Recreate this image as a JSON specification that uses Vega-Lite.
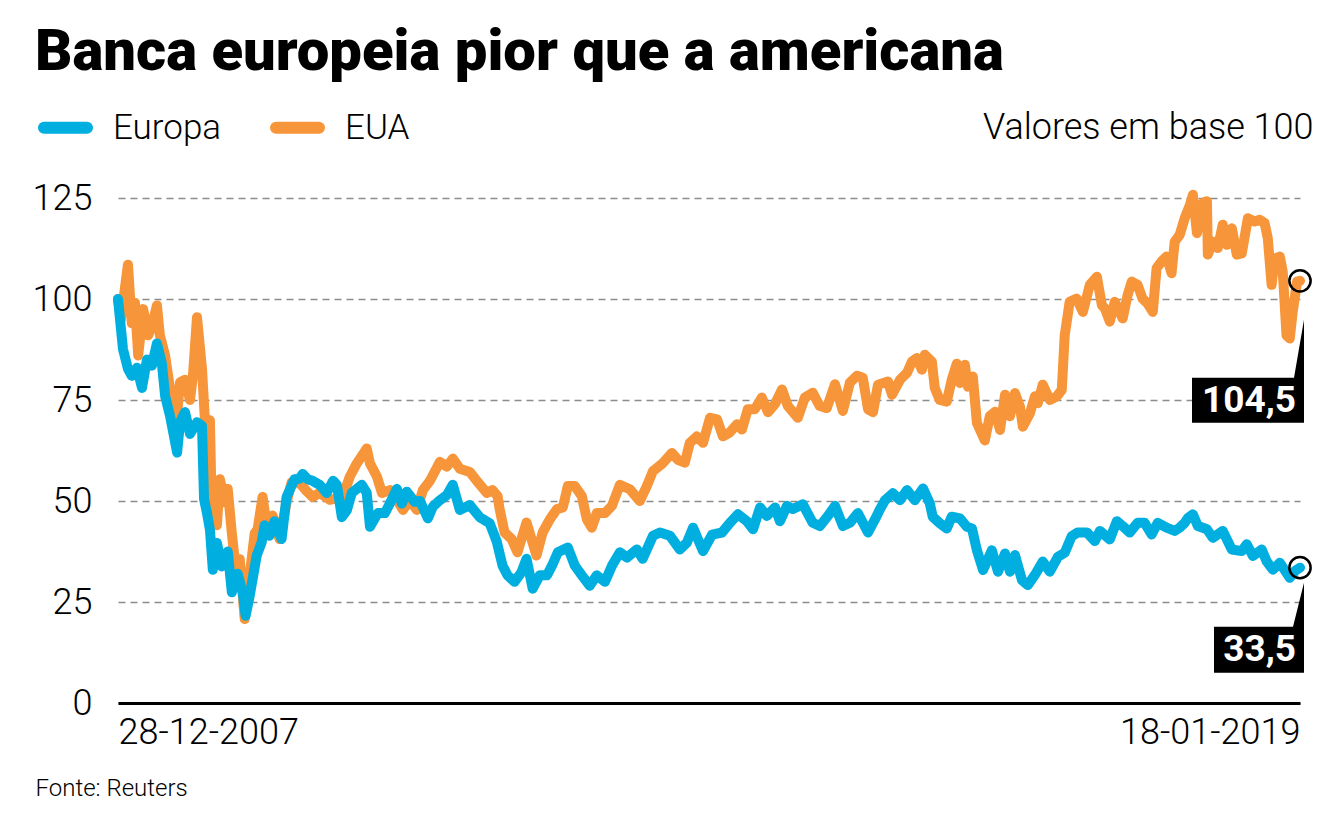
{
  "$schema": "https://vega.github.io/schema/vega-lite/v6.json",
  "width": 1182,
  "height": 505,
  "autosize": {"type": "none"},
  "padding": {"left": 118, "top": 198, "right": 33, "bottom": 128},
  "background": "white",
  "title": {"text": "Banca europeia pior que a americana", "anchor": "start", "frame": "group", "dx": -83, "dy": -14, "font": "Roboto", "fontWeight": 900, "fontSize": 58, "color": "#000000"},
  "config": {"view": {"stroke": null}, "font": "Roboto"},
  "datasets": {
    "series": [
      {"d":"2007-12-28","s":"EUA","v":100},{"d":"2008-01-07","s":"EUA","v":95},{"d":"2008-01-31","s":"EUA","v":108.5},{"d":"2008-02-13","s":"EUA","v":94},{"d":"2008-02-24","s":"EUA","v":99},{"d":"2008-03-06","s":"EUA","v":86},{"d":"2008-03-23","s":"EUA","v":97.5},{"d":"2008-04-09","s":"EUA","v":91},{"d":"2008-04-22","s":"EUA","v":93.4},{"d":"2008-05-09","s":"EUA","v":98.4},{"d":"2008-05-19","s":"EUA","v":91},{"d":"2008-06-06","s":"EUA","v":86},{"d":"2008-06-23","s":"EUA","v":77.7},{"d":"2008-07-10","s":"EUA","v":66},{"d":"2008-07-27","s":"EUA","v":79.4},{"d":"2008-08-13","s":"EUA","v":80},{"d":"2008-08-30","s":"EUA","v":75},{"d":"2008-09-09","s":"EUA","v":81},{"d":"2008-09-23","s":"EUA","v":95.5},{"d":"2008-10-10","s":"EUA","v":82.7},{"d":"2008-10-20","s":"EUA","v":70},{"d":"2008-11-06","s":"EUA","v":70},{"d":"2008-11-13","s":"EUA","v":46},{"d":"2008-11-30","s":"EUA","v":44},{"d":"2008-12-10","s":"EUA","v":55.4},{"d":"2008-12-28","s":"EUA","v":49.6},{"d":"2009-01-06","s":"EUA","v":53},{"d":"2009-01-20","s":"EUA","v":42},{"d":"2009-02-06","s":"EUA","v":30.7},{"d":"2009-02-16","s":"EUA","v":35.6},{"d":"2009-03-05","s":"EUA","v":20.8},{"d":"2009-03-22","s":"EUA","v":31.5},{"d":"2009-04-08","s":"EUA","v":42},{"d":"2009-04-18","s":"EUA","v":43},{"d":"2009-05-05","s":"EUA","v":51},{"d":"2009-05-19","s":"EUA","v":44},{"d":"2009-06-08","s":"EUA","v":46.4},{"d":"2009-07-02","s":"EUA","v":40.6},{"d":"2009-07-26","s":"EUA","v":49.6},{"d":"2009-08-12","s":"EUA","v":54.6},{"d":"2009-09-08","s":"EUA","v":54.5},{"d":"2009-10-02","s":"EUA","v":52.5},{"d":"2009-10-23","s":"EUA","v":51},{"d":"2009-11-16","s":"EUA","v":52},{"d":"2009-12-21","s":"EUA","v":50.3},{"d":"2010-02-03","s":"EUA","v":51},{"d":"2010-02-27","s":"EUA","v":56},{"d":"2010-03-23","s":"EUA","v":59.3},{"d":"2010-04-26","s":"EUA","v":63},{"d":"2010-05-07","s":"EUA","v":59.3},{"d":"2010-05-31","s":"EUA","v":56},{"d":"2010-06-17","s":"EUA","v":52},{"d":"2010-07-14","s":"EUA","v":52.7},{"d":"2010-08-07","s":"EUA","v":50.3},{"d":"2010-08-28","s":"EUA","v":47.8},{"d":"2010-09-20","s":"EUA","v":50.3},{"d":"2010-10-14","s":"EUA","v":47.8},{"d":"2010-11-04","s":"EUA","v":52.7},{"d":"2010-11-28","s":"EUA","v":55},{"d":"2011-01-01","s":"EUA","v":59.7},{"d":"2011-01-25","s":"EUA","v":58.5},{"d":"2011-02-14","s":"EUA","v":60.5},{"d":"2011-03-10","s":"EUA","v":58},{"d":"2011-04-13","s":"EUA","v":57.2},{"d":"2011-05-07","s":"EUA","v":55},{"d":"2011-06-10","s":"EUA","v":52},{"d":"2011-06-30","s":"EUA","v":52.7},{"d":"2011-07-17","s":"EUA","v":51.2},{"d":"2011-07-24","s":"EUA","v":48},{"d":"2011-08-10","s":"EUA","v":42.2},{"d":"2011-09-03","s":"EUA","v":40.6},{"d":"2011-09-23","s":"EUA","v":37.3},{"d":"2011-10-24","s":"EUA","v":44.7},{"d":"2011-11-10","s":"EUA","v":40.6},{"d":"2011-11-27","s":"EUA","v":36.5},{"d":"2011-12-18","s":"EUA","v":42.2},{"d":"2012-01-12","s":"EUA","v":45.5},{"d":"2012-02-05","s":"EUA","v":48},{"d":"2012-02-25","s":"EUA","v":48.4},{"d":"2012-03-13","s":"EUA","v":53.7},{"d":"2012-04-06","s":"EUA","v":53.7},{"d":"2012-04-30","s":"EUA","v":51.2},{"d":"2012-05-17","s":"EUA","v":45.5},{"d":"2012-06-03","s":"EUA","v":43.4},{"d":"2012-06-20","s":"EUA","v":47},{"d":"2012-07-18","s":"EUA","v":47},{"d":"2012-08-11","s":"EUA","v":48.8},{"d":"2012-09-07","s":"EUA","v":54},{"d":"2012-10-11","s":"EUA","v":52.9},{"d":"2012-11-14","s":"EUA","v":50},{"d":"2012-12-08","s":"EUA","v":53.7},{"d":"2012-12-29","s":"EUA","v":57.4},{"d":"2013-02-01","s":"EUA","v":59.4},{"d":"2013-03-04","s":"EUA","v":61.9},{"d":"2013-03-24","s":"EUA","v":60.2},{"d":"2013-04-17","s":"EUA","v":59.5},{"d":"2013-05-04","s":"EUA","v":64.4},{"d":"2013-05-28","s":"EUA","v":66},{"d":"2013-06-18","s":"EUA","v":64.4},{"d":"2013-07-12","s":"EUA","v":70.6},{"d":"2013-08-05","s":"EUA","v":70.2},{"d":"2013-08-25","s":"EUA","v":66},{"d":"2013-09-18","s":"EUA","v":67},{"d":"2013-10-12","s":"EUA","v":69},{"d":"2013-10-29","s":"EUA","v":67.7},{"d":"2013-11-18","s":"EUA","v":72.7},{"d":"2013-12-12","s":"EUA","v":72.7},{"d":"2014-01-05","s":"EUA","v":75.6},{"d":"2014-01-26","s":"EUA","v":72},{"d":"2014-02-19","s":"EUA","v":74},{"d":"2014-03-15","s":"EUA","v":77.6},{"d":"2014-04-04","s":"EUA","v":73.5},{"d":"2014-05-08","s":"EUA","v":70.6},{"d":"2014-06-01","s":"EUA","v":75.6},{"d":"2014-06-28","s":"EUA","v":76.8},{"d":"2014-07-22","s":"EUA","v":73.5},{"d":"2014-08-15","s":"EUA","v":73},{"d":"2014-09-12","s":"EUA","v":78.9},{"d":"2014-10-09","s":"EUA","v":72.3},{"d":"2014-11-02","s":"EUA","v":79.3},{"d":"2014-11-26","s":"EUA","v":81},{"d":"2014-12-16","s":"EUA","v":80.5},{"d":"2015-01-03","s":"EUA","v":72.7},{"d":"2015-01-20","s":"EUA","v":72},{"d":"2015-02-06","s":"EUA","v":78.8},{"d":"2015-03-12","s":"EUA","v":79.6},{"d":"2015-03-26","s":"EUA","v":76.3},{"d":"2015-04-22","s":"EUA","v":80},{"d":"2015-05-16","s":"EUA","v":81.7},{"d":"2015-06-02","s":"EUA","v":84.5},{"d":"2015-06-19","s":"EUA","v":85.4},{"d":"2015-07-06","s":"EUA","v":82.5},{"d":"2015-07-16","s":"EUA","v":86.2},{"d":"2015-08-09","s":"EUA","v":84.5},{"d":"2015-08-19","s":"EUA","v":78},{"d":"2015-09-05","s":"EUA","v":75},{"d":"2015-09-29","s":"EUA","v":74.6},{"d":"2015-10-16","s":"EUA","v":80},{"d":"2015-11-02","s":"EUA","v":84},{"d":"2015-11-13","s":"EUA","v":79.2},{"d":"2015-11-30","s":"EUA","v":83.7},{"d":"2015-12-10","s":"EUA","v":78.3},{"d":"2015-12-27","s":"EUA","v":80.8},{"d":"2016-01-10","s":"EUA","v":69.3},{"d":"2016-02-06","s":"EUA","v":65},{"d":"2016-02-23","s":"EUA","v":71},{"d":"2016-03-12","s":"EUA","v":72.1},{"d":"2016-03-29","s":"EUA","v":67.6},{"d":"2016-04-15","s":"EUA","v":76.3},{"d":"2016-05-02","s":"EUA","v":71},{"d":"2016-05-19","s":"EUA","v":76.7},{"d":"2016-06-05","s":"EUA","v":73.4},{"d":"2016-06-15","s":"EUA","v":68.4},{"d":"2016-07-09","s":"EUA","v":71.7},{"d":"2016-07-26","s":"EUA","v":75.9},{"d":"2016-08-05","s":"EUA","v":74.2},{"d":"2016-08-22","s":"EUA","v":78.8},{"d":"2016-09-15","s":"EUA","v":75},{"d":"2016-10-09","s":"EUA","v":75.9},{"d":"2016-10-26","s":"EUA","v":77.5},{"d":"2016-11-05","s":"EUA","v":91},{"d":"2016-11-22","s":"EUA","v":99.3},{"d":"2016-12-16","s":"EUA","v":100.1},{"d":"2017-01-06","s":"EUA","v":96.8},{"d":"2017-01-30","s":"EUA","v":103.5},{"d":"2017-02-23","s":"EUA","v":105.5},{"d":"2017-03-12","s":"EUA","v":98.5},{"d":"2017-03-22","s":"EUA","v":97.7},{"d":"2017-04-08","s":"EUA","v":94.4},{"d":"2017-04-25","s":"EUA","v":99.3},{"d":"2017-05-12","s":"EUA","v":96.8},{"d":"2017-05-22","s":"EUA","v":95.2},{"d":"2017-06-08","s":"EUA","v":101},{"d":"2017-06-22","s":"EUA","v":104.3},{"d":"2017-07-12","s":"EUA","v":103.5},{"d":"2017-07-29","s":"EUA","v":100.1},{"d":"2017-08-15","s":"EUA","v":98.9},{"d":"2017-09-02","s":"EUA","v":96.8},{"d":"2017-09-15","s":"EUA","v":107.6},{"d":"2017-10-02","s":"EUA","v":109.3},{"d":"2017-10-19","s":"EUA","v":110.5},{"d":"2017-11-05","s":"EUA","v":106.4},{"d":"2017-11-16","s":"EUA","v":114.2},{"d":"2017-12-03","s":"EUA","v":115.9},{"d":"2017-12-20","s":"EUA","v":120},{"d":"2018-01-07","s":"EUA","v":123.3},{"d":"2018-01-17","s":"EUA","v":125.8},{"d":"2018-01-31","s":"EUA","v":116.3},{"d":"2018-02-20","s":"EUA","v":123.8},{"d":"2018-03-06","s":"EUA","v":124.2},{"d":"2018-03-09","s":"EUA","v":111},{"d":"2018-03-26","s":"EUA","v":114.2},{"d":"2018-04-12","s":"EUA","v":112.6},{"d":"2018-04-29","s":"EUA","v":118.4},{"d":"2018-05-13","s":"EUA","v":113.4},{"d":"2018-05-30","s":"EUA","v":117.5},{"d":"2018-06-16","s":"EUA","v":111},{"d":"2018-07-03","s":"EUA","v":111.3},{"d":"2018-07-24","s":"EUA","v":120},{"d":"2018-08-16","s":"EUA","v":119.2},{"d":"2018-09-02","s":"EUA","v":119.6},{"d":"2018-09-19","s":"EUA","v":118.8},{"d":"2018-09-30","s":"EUA","v":115},{"d":"2018-10-13","s":"EUA","v":103.5},{"d":"2018-10-23","s":"EUA","v":110},{"d":"2018-11-10","s":"EUA","v":110.5},{"d":"2018-11-20","s":"EUA","v":106.8},{"d":"2018-12-03","s":"EUA","v":91},{"d":"2018-12-14","s":"EUA","v":90.2},{"d":"2018-12-24","s":"EUA","v":96.8},{"d":"2019-01-08","s":"EUA","v":104.3},{"d":"2019-01-18","s":"EUA","v":104.5},
      {"d":"2007-12-28","s":"Europa","v":100},{"d":"2008-01-14","s":"Europa","v":87.6},{"d":"2008-01-31","s":"Europa","v":82.7},{"d":"2008-02-13","s":"Europa","v":81},{"d":"2008-03-02","s":"Europa","v":83},{"d":"2008-03-19","s":"Europa","v":78},{"d":"2008-04-05","s":"Europa","v":85},{"d":"2008-04-22","s":"Europa","v":83.5},{"d":"2008-05-09","s":"Europa","v":89},{"d":"2008-05-26","s":"Europa","v":84},{"d":"2008-06-06","s":"Europa","v":76},{"d":"2008-06-23","s":"Europa","v":71},{"d":"2008-07-17","s":"Europa","v":62},{"d":"2008-07-27","s":"Europa","v":69.5},{"d":"2008-08-13","s":"Europa","v":72},{"d":"2008-08-30","s":"Europa","v":66.6},{"d":"2008-09-23","s":"Europa","v":69.5},{"d":"2008-10-10","s":"Europa","v":68.6},{"d":"2008-10-17","s":"Europa","v":50.5},{"d":"2008-10-27","s":"Europa","v":47},{"d":"2008-11-06","s":"Europa","v":43},{"d":"2008-11-16","s":"Europa","v":33},{"d":"2008-11-30","s":"Europa","v":39.6},{"d":"2008-12-17","s":"Europa","v":33.8},{"d":"2009-01-06","s":"Europa","v":37.5},{"d":"2009-01-20","s":"Europa","v":27.4},{"d":"2009-02-09","s":"Europa","v":32},{"d":"2009-02-26","s":"Europa","v":27.4},{"d":"2009-03-08","s":"Europa","v":21.6},{"d":"2009-03-22","s":"Europa","v":26.5},{"d":"2009-04-15","s":"Europa","v":36.5},{"d":"2009-05-02","s":"Europa","v":39.8},{"d":"2009-05-12","s":"Europa","v":44},{"d":"2009-05-29","s":"Europa","v":41.4},{"d":"2009-06-15","s":"Europa","v":45},{"d":"2009-07-09","s":"Europa","v":40.6},{"d":"2009-07-26","s":"Europa","v":51},{"d":"2009-08-22","s":"Europa","v":55.4},{"d":"2009-09-08","s":"Europa","v":55.5},{"d":"2009-09-19","s":"Europa","v":56.7},{"d":"2009-10-06","s":"Europa","v":55.4},{"d":"2009-10-23","s":"Europa","v":55},{"d":"2009-11-16","s":"Europa","v":54},{"d":"2009-12-10","s":"Europa","v":52},{"d":"2010-01-01","s":"Europa","v":55},{"d":"2010-01-14","s":"Europa","v":54},{"d":"2010-01-31","s":"Europa","v":46},{"d":"2010-02-17","s":"Europa","v":47.7},{"d":"2010-03-06","s":"Europa","v":52},{"d":"2010-04-09","s":"Europa","v":54},{"d":"2010-04-26","s":"Europa","v":52},{"d":"2010-05-07","s":"Europa","v":43.6},{"d":"2010-06-03","s":"Europa","v":47},{"d":"2010-06-27","s":"Europa","v":47},{"d":"2010-07-14","s":"Europa","v":49.4},{"d":"2010-08-07","s":"Europa","v":53},{"d":"2010-08-24","s":"Europa","v":49.4},{"d":"2010-09-10","s":"Europa","v":52.3},{"d":"2010-10-07","s":"Europa","v":49.8},{"d":"2010-10-25","s":"Europa","v":50},{"d":"2010-11-21","s":"Europa","v":45.7},{"d":"2010-12-08","s":"Europa","v":48.6},{"d":"2011-01-01","s":"Europa","v":50.2},{"d":"2011-01-25","s":"Europa","v":51.5},{"d":"2011-02-14","s":"Europa","v":54},{"d":"2011-03-10","s":"Europa","v":47.8},{"d":"2011-04-13","s":"Europa","v":49},{"d":"2011-05-17","s":"Europa","v":46},{"d":"2011-06-20","s":"Europa","v":44.5},{"d":"2011-07-14","s":"Europa","v":40},{"d":"2011-08-03","s":"Europa","v":34},{"d":"2011-08-20","s":"Europa","v":31.6},{"d":"2011-09-13","s":"Europa","v":30},{"d":"2011-10-07","s":"Europa","v":32.4},{"d":"2011-10-24","s":"Europa","v":35.7},{"d":"2011-11-14","s":"Europa","v":28.3},{"d":"2011-12-08","s":"Europa","v":31.6},{"d":"2012-01-02","s":"Europa","v":31.6},{"d":"2012-01-19","s":"Europa","v":34},{"d":"2012-02-08","s":"Europa","v":37.3},{"d":"2012-03-13","s":"Europa","v":38.5},{"d":"2012-04-06","s":"Europa","v":34},{"d":"2012-04-30","s":"Europa","v":31.6},{"d":"2012-05-27","s":"Europa","v":29},{"d":"2012-06-20","s":"Europa","v":31.6},{"d":"2012-07-18","s":"Europa","v":30},{"d":"2012-08-11","s":"Europa","v":34},{"d":"2012-09-07","s":"Europa","v":37.3},{"d":"2012-10-01","s":"Europa","v":36},{"d":"2012-11-04","s":"Europa","v":38},{"d":"2012-11-24","s":"Europa","v":35.7},{"d":"2012-12-29","s":"Europa","v":41.4},{"d":"2013-01-22","s":"Europa","v":42.2},{"d":"2013-02-25","s":"Europa","v":41.4},{"d":"2013-03-31","s":"Europa","v":38},{"d":"2013-04-24","s":"Europa","v":39.7},{"d":"2013-05-15","s":"Europa","v":43.4},{"d":"2013-06-18","s":"Europa","v":37.6},{"d":"2013-07-19","s":"Europa","v":41.7},{"d":"2013-08-22","s":"Europa","v":42.2},{"d":"2013-09-18","s":"Europa","v":44.6},{"d":"2013-10-15","s":"Europa","v":46.7},{"d":"2013-11-15","s":"Europa","v":45},{"d":"2013-12-06","s":"Europa","v":43},{"d":"2013-12-30","s":"Europa","v":48.4},{"d":"2014-01-22","s":"Europa","v":46.3},{"d":"2014-02-19","s":"Europa","v":48.4},{"d":"2014-03-08","s":"Europa","v":45},{"d":"2014-04-01","s":"Europa","v":48.8},{"d":"2014-04-21","s":"Europa","v":48},{"d":"2014-05-25","s":"Europa","v":49.2},{"d":"2014-06-28","s":"Europa","v":44.6},{"d":"2014-07-22","s":"Europa","v":43.8},{"d":"2014-08-19","s":"Europa","v":46.3},{"d":"2014-09-12","s":"Europa","v":48.8},{"d":"2014-10-09","s":"Europa","v":43.8},{"d":"2014-11-02","s":"Europa","v":44.6},{"d":"2014-11-29","s":"Europa","v":47},{"d":"2015-01-03","s":"Europa","v":42.2},{"d":"2015-01-27","s":"Europa","v":45.5},{"d":"2015-02-13","s":"Europa","v":48},{"d":"2015-03-02","s":"Europa","v":50.2},{"d":"2015-03-29","s":"Europa","v":51.9},{"d":"2015-04-22","s":"Europa","v":50.2},{"d":"2015-05-16","s":"Europa","v":52.7},{"d":"2015-06-12","s":"Europa","v":50.2},{"d":"2015-07-10","s":"Europa","v":53.1},{"d":"2015-08-02","s":"Europa","v":49.4},{"d":"2015-08-12","s":"Europa","v":46.1},{"d":"2015-09-05","s":"Europa","v":44.5},{"d":"2015-09-29","s":"Europa","v":43.2},{"d":"2015-10-16","s":"Europa","v":46.1},{"d":"2015-11-13","s":"Europa","v":45.7},{"d":"2015-12-07","s":"Europa","v":43.6},{"d":"2015-12-24","s":"Europa","v":43.2},{"d":"2016-01-10","s":"Europa","v":37.8},{"d":"2016-01-31","s":"Europa","v":32.9},{"d":"2016-03-01","s":"Europa","v":37.8},{"d":"2016-03-22","s":"Europa","v":32.5},{"d":"2016-04-15","s":"Europa","v":37},{"d":"2016-05-02","s":"Europa","v":32.5},{"d":"2016-05-19","s":"Europa","v":36.6},{"d":"2016-06-12","s":"Europa","v":30.4},{"d":"2016-07-02","s":"Europa","v":29.2},{"d":"2016-07-26","s":"Europa","v":31.7},{"d":"2016-08-22","s":"Europa","v":35},{"d":"2016-09-15","s":"Europa","v":32.5},{"d":"2016-10-13","s":"Europa","v":36.2},{"d":"2016-11-05","s":"Europa","v":37.2},{"d":"2016-11-29","s":"Europa","v":41.3},{"d":"2016-12-19","s":"Europa","v":42.2},{"d":"2017-01-20","s":"Europa","v":42.2},{"d":"2017-02-16","s":"Europa","v":40.1},{"d":"2017-03-05","s":"Europa","v":42.6},{"d":"2017-04-08","s":"Europa","v":40.5},{"d":"2017-05-02","s":"Europa","v":45},{"d":"2017-05-22","s":"Europa","v":43.8},{"d":"2017-06-15","s":"Europa","v":42.2},{"d":"2017-07-12","s":"Europa","v":44.6},{"d":"2017-08-05","s":"Europa","v":44.6},{"d":"2017-08-29","s":"Europa","v":41.7},{"d":"2017-09-19","s":"Europa","v":44.6},{"d":"2017-10-19","s":"Europa","v":43.4},{"d":"2017-11-16","s":"Europa","v":42.6},{"d":"2017-12-03","s":"Europa","v":43.4},{"d":"2017-12-20","s":"Europa","v":44.6},{"d":"2017-12-31","s":"Europa","v":45.8},{"d":"2018-01-17","s":"Europa","v":46.7},{"d":"2018-02-03","s":"Europa","v":43.8},{"d":"2018-03-06","s":"Europa","v":43},{"d":"2018-03-26","s":"Europa","v":40.9},{"d":"2018-04-29","s":"Europa","v":42.6},{"d":"2018-05-30","s":"Europa","v":38},{"d":"2018-07-03","s":"Europa","v":37.6},{"d":"2018-07-20","s":"Europa","v":39.3},{"d":"2018-08-10","s":"Europa","v":36.4},{"d":"2018-09-09","s":"Europa","v":38},{"d":"2018-09-26","s":"Europa","v":35.1},{"d":"2018-10-17","s":"Europa","v":33},{"d":"2018-11-10","s":"Europa","v":34.7},{"d":"2018-12-14","s":"Europa","v":31},{"d":"2019-01-01","s":"Europa","v":32.7},{"d":"2019-01-18","s":"Europa","v":33.5}
    ],
    "ends": [
      {"d":"2019-01-18","v":104.5,"label":"104,5","k":"top"},
      {"d":"2019-01-18","v":33.5,"label":"33,5","k":"bot"}
    ]
  },
  "encoding": {
    "x": {
      "field": "d", "type": "temporal",
      "scale": {"type": "utc", "domain": [{"year": 2007, "month": 12, "date": 28, "utc": true}, {"year": 2019, "month": 1, "date": 18, "utc": true}]},
      "axis": {
        "values": [{"year": 2007, "month": 12, "date": 28, "utc": true}, {"year": 2019, "month": 1, "date": 18, "utc": true}],
        "labelExpr": "utcFormat(datum.value, '%d-%m-%Y')", "labelFlush": true, "labelLimit": 0, "labelOverlap": false,
        "ticks": false, "grid": false, "domain": true, "domainColor": "#000000", "domainWidth": 3,
        "labelFont": "Roboto", "labelFontWeight": 300, "labelFontSize": 36, "labelColor": "#000000", "labelPadding": 12,
        "title": "Fonte: Reuters", "titleX": -83, "titleY": 92, "titleAlign": "left", "titleBaseline": "alphabetic",
        "titleFont": "Roboto", "titleFontSize": 24, "titleFontWeight": 300, "titleColor": "#000000"
      }
    },
    "y": {
      "field": "v", "type": "quantitative",
      "scale": {"domain": [0, 125], "nice": false},
      "axis": {
        "values": [0, 25, 50, 75, 100, 125], "domain": false, "ticks": false,
        "grid": true, "gridColor": "#8c8c8c", "gridDash": [7, 5], "gridWidth": 1.5,
        "labelFont": "Roboto", "labelFontWeight": 300, "labelFontSize": 36, "labelColor": "#000000", "labelPadding": 26,
        "title": "Valores em base 100", "titleAngle": 0, "titleX": 1195, "titleY": -71, "titleAlign": "right", "titleBaseline": "middle",
        "titleFont": "Roboto", "titleFontSize": 36, "titleFontWeight": 300, "titleColor": "#000000"
      }
    }
  },
  "layer": [
    {
      "data": {"name": "series"},
      "mark": {"type": "line", "strokeWidth": 10, "strokeCap": "round", "strokeJoin": "round"},
      "encoding": {
        "color": {
          "field": "s", "type": "nominal",
          "scale": {"domain": ["Europa", "EUA"], "range": ["#00aee0", "#f7953a"]},
          "legend": {
            "orient": "none", "legendX": -80, "legendY": -98, "direction": "horizontal", "title": null,
            "symbolType": "stroke", "symbolStrokeWidth": 12, "symbolSize": 1849,
            "labelFont": "Roboto", "labelFontSize": 35, "labelFontWeight": 300, "labelColor": "#000000",
            "labelOffset": 20, "columnPadding": 30,
            "encode": {"symbols": {"update": {"strokeCap": {"value": "round"}}}}
          }
        }
      }
    },
    {
      "data": {"name": "ends"},
      "mark": {"type": "point", "shape": "circle", "filled": false, "color": "#000000", "strokeWidth": 2.5, "size": 452, "opacity": 1}
    },
    {
      "data": {"name": "ends"},
      "mark": {"type": "point", "filled": true, "color": "#000000", "size": 4, "opacity": 1, "strokeWidth": 0},
      "encoding": {
        "shape": {
          "field": "k", "type": "nominal",
          "scale": {"domain": ["top", "bot"], "range": ["M-108,97L-6,97L4,39L4,142L-108,142Z", "M-86,59L-7,59L4,15L4,105L-86,105Z"]},
          "legend": null
        }
      }
    },
    {
      "data": {"name": "ends"},
      "transform": [{"filter": "datum.k === 'top'"}],
      "mark": {"type": "text", "align": "right", "baseline": "alphabetic", "dx": -4, "dy": 131, "font": "Roboto", "fontWeight": "bold", "fontSize": 37, "color": "#ffffff"},
      "encoding": {"text": {"field": "label"}}
    },
    {
      "data": {"name": "ends"},
      "transform": [{"filter": "datum.k === 'bot'"}],
      "mark": {"type": "text", "align": "right", "baseline": "alphabetic", "dx": -4, "dy": 93, "font": "Roboto", "fontWeight": "bold", "fontSize": 37, "color": "#ffffff"},
      "encoding": {"text": {"field": "label"}}
    }
  ]
}
